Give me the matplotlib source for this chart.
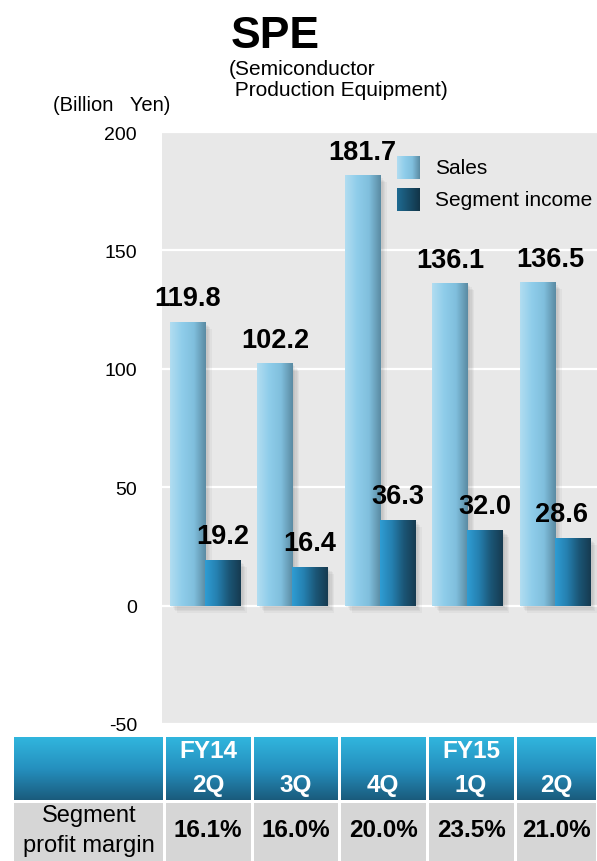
import numpy as np
import matplotlib
matplotlib.use("Agg")
import matplotlib.pyplot as plt
from matplotlib.colors import LinearSegmentedColormap
from matplotlib.patches import Rectangle
import matplotlib.patheffects as pe

plt.rcParams['font.family'] = ['Liberation Sans', 'DejaVu Sans']

# ---- data ----
quarters_top = ["FY14", "", "", "FY15", ""]
quarters_bottom = ["2Q", "3Q", "4Q", "1Q", "2Q"]
sales = [119.8, 102.2, 181.7, 136.1, 136.5]
segment_income = [19.2, 16.4, 36.3, 32.0, 28.6]
profit_margin = ["16.1%", "16.0%", "20.0%", "23.5%", "21.0%"]
yticks = [-50, 0, 50, 100, 150, 200]

W, H = 597, 862
fig = plt.figure(figsize=(W / 100, H / 100), dpi=100)
fig.patch.set_facecolor("white")


def px_axes(left, top, right, bottom, **kw):
    return fig.add_axes([left / W, 1 - bottom / H, (right - left) / W, (bottom - top) / H], **kw)


sales_cmap = LinearSegmentedColormap.from_list(
    "sales", ["#b2ddf1", "#8fcdea", "#80bfdd", "#5a8aa2"])
income_cmap = LinearSegmentedColormap.from_list(
    "income", ["#2f9dd4", "#2580b0", "#1b5676", "#163a50"])

# ---- main chart ----
ax = px_axes(162, 133, 597, 725)
ax.set_facecolor("#e8e8e8")
for s in ax.spines.values():
    s.set_visible(False)
ax.set_xlim(-0.49, 4.481)
ax.set_ylim(-50, 200)
ax.set_yticks(yticks)
ax.set_yticklabels([str(t) for t in yticks], fontsize=14)
ax.tick_params(axis="y", length=0, pad=18)
ax.set_xticks([])
ax.yaxis.grid(True, color="white", linewidth=1.6)
ax.set_axisbelow(True)

x = np.arange(len(sales))
bw = 0.4
shadow = [pe.SimplePatchShadow(offset=(o, -o), shadow_rgbFace="#555555", alpha=0.06)
          for o in (1, 2, 3, 4, 5)]

grad = np.linspace(0, 1, 256).reshape(1, -1)


def gradient_bars(container, cmap):
    for bar in container:
        bar.set_path_effects(shadow + [pe.Normal()])
        x0, y0 = bar.get_x(), bar.get_y()
        w, h = bar.get_width(), bar.get_height()
        ax.imshow(grad, cmap=cmap, extent=[x0, x0 + w, y0, y0 + h],
                  aspect="auto", zorder=3, interpolation="bilinear")


b1 = ax.bar(x - bw / 2, sales, bw, color="#8fcdea", zorder=2)
b2 = ax.bar(x + bw / 2, segment_income, bw, color="#1b5676", zorder=2)
gradient_bars(b1, sales_cmap)
gradient_bars(b2, income_cmap)
ax.set_xlim(-0.49, 4.481)
ax.set_ylim(-50, 200)

sales_dx = [0, 0, 0, 0, 9]
income_dx = [0, 0, 0, 0, -8]
for i in range(len(sales)):
    ax.annotate(f"{sales[i]:.1f}", (x[i] - bw / 2, sales[i]),
                xytext=(sales_dx[i], 12), textcoords="offset points",
                ha="center", va="baseline", fontsize=19.5, fontweight="bold", zorder=5)
    ax.annotate(f"{segment_income[i]:.1f}", (x[i] + bw / 2, segment_income[i]),
                xytext=(income_dx[i], 12), textcoords="offset points",
                ha="center", va="baseline", fontsize=19.5, fontweight="bold", zorder=5)

# ---- overlay for titles, legend and table (pixel coordinates) ----
ov = fig.add_axes([0, 0, 1, 1], zorder=10)
ov.set_xlim(0, W)
ov.set_ylim(H, 0)
ov.axis("off")
ov.patch.set_alpha(0)

ov.text(231, 48, "SPE", fontsize=32, fontweight="bold", ha="left", va="baseline")
ov.text(229, 75, "(Semiconductor", fontsize=15, ha="left", va="baseline")
ov.text(229, 96, " Production Equipment)", fontsize=15, ha="left", va="baseline")
ov.text(53, 111, "(Billion   Yen)", fontsize=14.5, ha="left", va="baseline")

# legend
leg_items = [("Sales", sales_cmap, 157), ("Segment income",
             LinearSegmentedColormap.from_list("li", ["#1f6b92", "#123447"]), 189)]
for label, cmap, top in leg_items:
    ov.imshow(grad, cmap=cmap, extent=[397, 420, top + 23, top], aspect="auto",
              interpolation="bilinear")
    ov.text(435, top + 12, label, fontsize=15, ha="left", va="center")

# table
col_edges = [14, 164, 252, 339, 427, 515, 597]
head_top, head_bot = 738, 801
row_top, row_bot = 804, 862
vgrad = np.linspace(0, 1, 256).reshape(-1, 1)
head_cmap = LinearSegmentedColormap.from_list("head", ["#31b6de", "#2590bf", "#1a5b7c"])
for j in range(len(col_edges) - 1):
    l, r = col_edges[j] + (1.5 if j else 0), col_edges[j + 1] - 1.5
    ov.imshow(vgrad, cmap=head_cmap, extent=[l, r, head_bot, head_top],
              aspect="auto", interpolation="bilinear")
    ov.add_patch(Rectangle((l, row_top), r - l, row_bot - row_top,
                           facecolor="#d6d6d6", edgecolor="none"))

ov.text((col_edges[0] + col_edges[1]) / 2, 816, "Segment", fontsize=17,
        ha="center", va="center")
ov.text((col_edges[0] + col_edges[1]) / 2, 846, "profit margin", fontsize=17,
        ha="center", va="center")
for j in range(5):
    cx = (col_edges[j + 1] + col_edges[j + 2]) / 2
    if quarters_top[j]:
        ov.text(cx, 752, quarters_top[j], fontsize=17.5, fontweight="bold",
                color="white", ha="center", va="center")
    ov.text(cx, 786, quarters_bottom[j], fontsize=17.5, fontweight="bold",
            color="white", ha="center", va="center")
    ov.text(cx, 831, profit_margin[j], fontsize=17.5, fontweight="bold",
            ha="center", va="center")
ov.set_xlim(0, W)
ov.set_ylim(H, 0)

fig.savefig("out.png", dpi=100)
